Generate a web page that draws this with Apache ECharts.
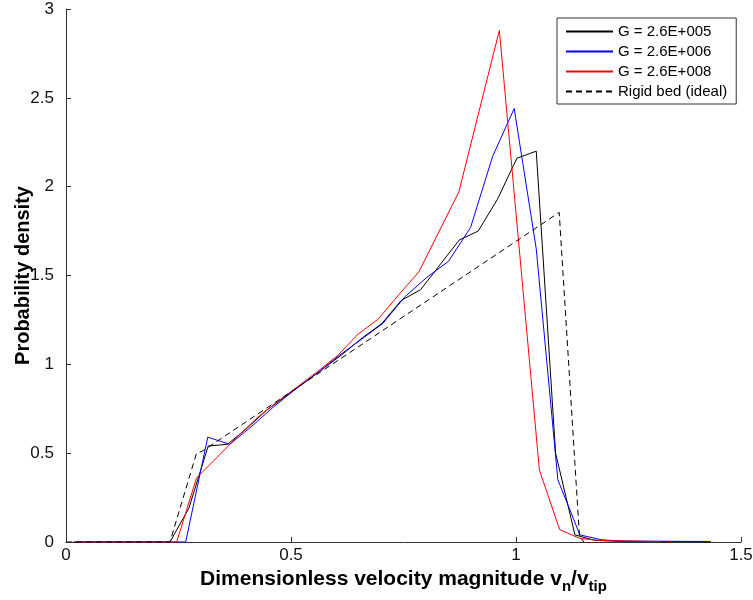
<!DOCTYPE html>
<html>
<head>
<meta charset="utf-8">
<script src="https://cdn.jsdelivr.net/npm/echarts@6/dist/echarts.min.js"></script>
<style>html,body{margin:0;padding:0;background:#fff;}#c{width:753px;height:600px;}</style>
</head>
<body>
<div id="c"></div>
<script>
// Series names
const seriesNames = ['G = 2.6E+005', 'G = 2.6E+006', 'G = 2.6E+008', 'Rigid bed (ideal)'];

// G = 2.6E+005 (black)
const blackX = [0.016, 0.231, 0.273, 0.316, 0.359, 0.402, 0.445, 0.488, 0.531, 0.574, 0.616, 0.659, 0.702, 0.745, 0.788, 0.831, 0.874, 0.916, 0.959, 1.002, 1.045, 1.088, 1.131, 1.174, 1.217, 1.260, 1.431];
const blackY = [0, 0, 0.19, 0.54, 0.55, 0.64, 0.74, 0.82, 0.90, 0.98, 1.06, 1.15, 1.23, 1.36, 1.42, 1.56, 1.70, 1.75, 1.93, 2.16, 2.20, 0.50, 0.04, 0.01, 0.005, 0.003, 0];

// G = 2.6E+006 (blue)
const blueX = [0.023, 0.266, 0.315, 0.364, 0.412, 0.461, 0.510, 0.558, 0.607, 0.656, 0.704, 0.753, 0.802, 0.850, 0.899, 0.948, 0.996, 1.045, 1.093, 1.142, 1.191, 1.240, 1.433];
const blueY = [0, 0, 0.59, 0.55, 0.65, 0.76, 0.86, 0.95, 1.05, 1.14, 1.23, 1.38, 1.49, 1.58, 1.77, 2.17, 2.44, 1.65, 0.35, 0.04, 0.012, 0.005, 0.003];

// G = 2.6E+008 (red)
const redX = [0.021, 0.246, 0.290, 0.380, 0.425, 0.470, 0.515, 0.559, 0.604, 0.649, 0.694, 0.739, 0.784, 0.873, 0.963, 1.052, 1.097, 1.142, 1.187, 1.321];
const redY = [0, 0, 0.36, 0.59, 0.70, 0.79, 0.875, 0.96, 1.05, 1.17, 1.255, 1.39, 1.52, 1.97, 2.88, 0.405, 0.07, 0.02, 0.008, 0.003];

// Rigid bed (ideal) (dashed)
const rigidX = [0, 0.231, 0.290, 0.302, 1.096, 1.141, 1.151];
const rigidY = [0, 0, 0.50, 0.51, 1.855, 0.034, 0];

// Axis ticks
const xTicks = [0, 0.5, 1, 1.5];
const yTicks = [0, 0.5, 1, 1.5, 2, 2.5, 3];

const FONT = 'Liberation Sans, Arial, sans-serif';
const pairs = (xs, ys) => xs.map((x, i) => [x, ys[i]]);

const chart = echarts.init(document.getElementById('c'), null, {renderer: 'canvas'});
const axisCommon = {
  axisLine: {show: true, lineStyle: {color: '#333', width: 1}},
  axisTick: {show: true, inside: true, length: 5, lineStyle: {color: '#333'}},
  splitLine: {show: false},
  axisLabel: {color: '#111', fontSize: 17, fontFamily: FONT}
};
chart.setOption({
  animation: false,
  backgroundColor: '#fff',
  grid: {left: 66, right: 12, top: 9, bottom: 58, outerBoundsMode: 'none', containLabel: false},
  xAxis: Object.assign({}, axisCommon, {
    type: 'value', min: xTicks[0], max: xTicks[xTicks.length - 1], interval: xTicks[1] - xTicks[0],
    axisLabel: Object.assign({}, axisCommon.axisLabel, {margin: 5}),
    name: '{t|Dimensionless velocity magnitude v}{s|n}{t|/v}{s|tip}',
    nameLocation: 'middle', nameGap: 22,
    nameTextStyle: {
      rich: {
        t: {fontSize: 21, fontWeight: 'bold', fontFamily: FONT, color: '#000'},
        s: {fontSize: 15, fontWeight: 'bold', fontFamily: FONT, color: '#000', padding: [14, 0, 0, 0]}
      }
    }
  }),
  yAxis: Object.assign({}, axisCommon, {
    type: 'value', min: yTicks[0], max: yTicks[yTicks.length - 1], interval: yTicks[1] - yTicks[0],
    axisLabel: Object.assign({}, axisCommon.axisLabel, {margin: 12}),
    name: 'Probability density', nameLocation: 'middle', nameGap: 33, nameMoveOverlap: false,
    nameTextStyle: {fontSize: 20, fontWeight: 'bold', fontFamily: FONT, color: '#000'}
  }),
  legend: {
    left: 557, top: 18, orient: 'vertical',
    padding: [6, 9, 5, 8], itemGap: 5, itemWidth: 47, itemHeight: 14,
    borderColor: '#333', borderWidth: 1, backgroundColor: '#fff',
    itemStyle: {opacity: 0},
    textStyle: {fontSize: 15, fontFamily: FONT, color: '#000'},
    data: seriesNames
  },
  series: [
    {name: seriesNames[0], type: 'line', data: pairs(blackX, blackY), symbol: 'none', lineStyle: {color: '#000', width: 1}, itemStyle: {color: '#000'}},
    {name: seriesNames[1], type: 'line', data: pairs(blueX, blueY), symbol: 'none', lineStyle: {color: '#0000ff', width: 1}, itemStyle: {color: '#0000ff'}},
    {name: seriesNames[2], type: 'line', data: pairs(redX, redY), symbol: 'none', lineStyle: {color: '#ff0000', width: 1}, itemStyle: {color: '#ff0000'}},
    {name: seriesNames[3], type: 'line', data: pairs(rigidX, rigidY), symbol: 'none', lineStyle: {color: '#000', width: 1, type: [6, 4]}, itemStyle: {color: '#000'}}
  ]
});
</script>
</body>
</html>
